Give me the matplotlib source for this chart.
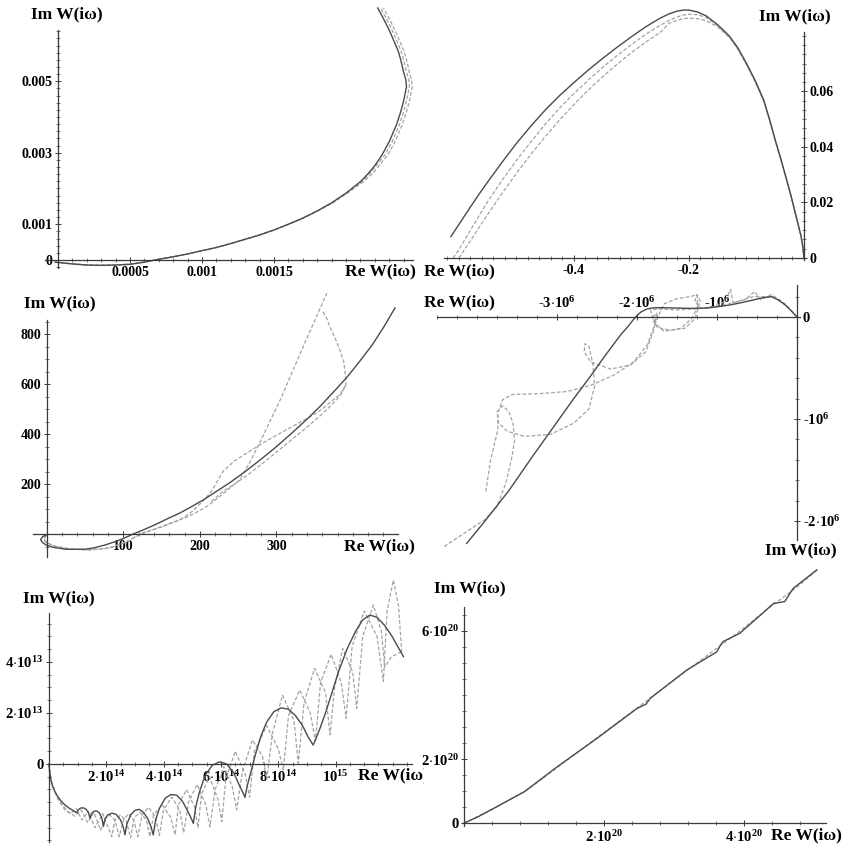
import matplotlib
matplotlib.use("Agg")
import matplotlib.pyplot as plt
import numpy as np
from matplotlib.ticker import FixedLocator, FixedFormatter, MultipleLocator
from matplotlib.transforms import Bbox, TransformedBbox

plt.rcParams['font.family'] = ['Liberation Serif', 'DejaVu Serif']
plt.rcParams['font.weight'] = 'bold'
plt.rcParams['mathtext.fontset'] = 'custom'
plt.rcParams['mathtext.rm'] = 'Liberation Serif:bold'
plt.rcParams['mathtext.bf'] = 'Liberation Serif:bold'
plt.rcParams['mathtext.it'] = 'Liberation Serif:bold'

W, H = 847, 850
IM = 'Im W(i\u03c9)'
RE = 'Re W(i\u03c9)'

# ---- panel 1 (top left) ----
p1_im = [-0.00006, -0.00011, -0.00014, -0.00015, -0.00014, -0.00012, -0.00006, 0.00002, 0.00009,
         0.00017, 0.00026, 0.00035, 0.00046, 0.00058, 0.0007, 0.00084, 0.001, 0.00117, 0.00137,
         0.0016, 0.00187, 0.00219, 0.0024, 0.00264, 0.00294, 0.00331, 0.00378, 0.00415, 0.00445,
         0.00465, 0.00485, 0.00505, 0.00525, 0.0056, 0.00587, 0.00615, 0.00643, 0.00675, 0.00705]
p1_re = [-0.00002, 0.0001, 0.0002, 0.0003, 0.0004, 0.0005, 0.0006, 0.0007, 0.0008,
         0.0009, 0.001, 0.0011, 0.0012, 0.0013, 0.0014, 0.0015, 0.0016, 0.0017, 0.0018,
         0.0019, 0.002, 0.0021, 0.00215, 0.0022, 0.00225, 0.0023, 0.00235, 0.00238, 0.0024,
         0.00241, 0.00242, 0.002415, 0.0024, 0.00238, 0.00236, 0.00233, 0.0023, 0.00226, 0.00222]
p1_re_a = [-0.00002, 0.0001, 0.0002, 0.0003, 0.0004, 0.0005, 0.0006, 0.0007, 0.0008,
           0.0009, 0.001, 0.0011, 0.0012, 0.0013, 0.0014, 0.0015, 0.0016, 0.0017, 0.0018,
           0.0019, 0.002, 0.00211, 0.00216, 0.00221, 0.00227, 0.00232, 0.00237, 0.0024, 0.00242,
           0.00243, 0.00244, 0.002435, 0.00242, 0.0024, 0.00238, 0.00235, 0.00232, 0.00228, 0.00224]
p1_re_b = [-0.00002, 0.0001, 0.0002, 0.0003, 0.0004, 0.0005, 0.0006, 0.0007, 0.0008,
           0.0009, 0.001, 0.0011, 0.0012, 0.0013, 0.0014, 0.0015, 0.0016, 0.0017, 0.0018,
           0.00191, 0.00201, 0.00212, 0.00218, 0.00223, 0.00229, 0.00234, 0.00239, 0.00242, 0.00244,
           0.00245, 0.00246, 0.002455, 0.00244, 0.00242, 0.0024, 0.00237, 0.00234, 0.0023, 0.00226]
p1_xticks = [0.0005, 0.001, 0.0015]
p1_xlabels = ['0.0005', '0.001', '0.0015']
p1_yticks = [0, 0.001, 0.003, 0.005]
p1_ylabels = ['0', '0.001', '0.003', '0.005']

# ---- panel 2 (top right) ----
p2_re = [-0.614, -0.6, -0.58, -0.565, -0.55, -0.525, -0.5, -0.475, -0.45, -0.425, -0.4, -0.375,
         -0.35, -0.325, -0.3, -0.275, -0.25, -0.235, -0.221, -0.21, -0.2, -0.185, -0.17, -0.15,
         -0.13, -0.115, -0.1, -0.085, -0.07, -0.06, -0.05, -0.04, -0.03, -0.022, -0.015, -0.01,
         -0.005, -0.002, 0.0]
p2_im = [0.0077, 0.0121, 0.0184, 0.0230, 0.0274, 0.0345, 0.0413, 0.0475, 0.0533, 0.0585, 0.0632, 0.0677,
         0.0719, 0.0759, 0.0797, 0.0833, 0.0864, 0.0879, 0.0889, 0.0893, 0.0893, 0.0886, 0.0872, 0.0840,
         0.0800, 0.0757, 0.0701, 0.0640, 0.0569, 0.0500, 0.0425, 0.0355, 0.0281, 0.0220, 0.0161, 0.0120,
         0.0077, 0.0040, 0.0]
p2_re_a = [-0.61, -0.6, -0.58, -0.565, -0.55, -0.525, -0.5, -0.475, -0.45, -0.425, -0.4, -0.375,
           -0.35, -0.325, -0.3, -0.275, -0.25, -0.235, -0.221, -0.21, -0.2, -0.185, -0.17, -0.15,
           -0.13, -0.115, -0.1, -0.085, -0.07, -0.06, -0.05, -0.04, -0.03, -0.022, -0.015, -0.01,
           -0.005, -0.002, 0.0]
p2_im_a = [0.0, 0.0030, 0.0100, 0.0152, 0.0203, 0.0280, 0.0352, 0.0418, 0.0482, 0.0540, 0.0592, 0.0641,
           0.0687, 0.0729, 0.0769, 0.0806, 0.0838, 0.0855, 0.0868, 0.0875, 0.0878, 0.0876, 0.0866, 0.0836,
           0.0797, 0.0754, 0.0698, 0.0637, 0.0566, 0.0498, 0.0423, 0.0353, 0.0279, 0.0219, 0.0160, 0.0119,
           0.0077, 0.0040, 0.0]
p2_re_b = [-0.6, -0.592, -0.58, -0.565, -0.55, -0.525, -0.5, -0.475, -0.45, -0.425, -0.4, -0.375,
           -0.35, -0.325, -0.3, -0.275, -0.25, -0.235, -0.221, -0.21, -0.2, -0.185, -0.17, -0.15,
           -0.13, -0.115, -0.1, -0.085, -0.07, -0.06, -0.05, -0.04, -0.03, -0.022, -0.015, -0.01,
           -0.005, -0.002, 0.0]
p2_im_b = [0.0, 0.0025, 0.0062, 0.0110, 0.0157, 0.0233, 0.0305, 0.0373, 0.0437, 0.0497, 0.0553, 0.0605,
           0.0653, 0.0698, 0.0740, 0.0778, 0.0812, 0.0845, 0.0856, 0.0862, 0.0864, 0.0862, 0.0855, 0.0832,
           0.0795, 0.0752, 0.0696, 0.0635, 0.0565, 0.0497, 0.0422, 0.0352, 0.0278, 0.0218, 0.0160, 0.0119,
           0.0077, 0.0040, 0.0]
p2_xticks = [-0.4, -0.2]
p2_xlabels = ['-0.4', '-0.2']
p2_yticks = [0, 0.02, 0.04, 0.06]
p2_ylabels = ['0', '0.02', '0.04', '0.06']

# ---- panel 3 (middle left) ----
p3_re = [0, -5, -8, -6, -1, 8, 25, 50, 62, 75, 90, 100, 113, 125, 140, 157, 174, 190, 205, 222, 240,
         259, 280, 300, 320, 340, 357, 375, 392, 408, 425, 440, 455]
p3_im = [-2, -10, -22, -33, -44, -53, -61, -61, -55, -45, -30, -18, 0, 15, 35, 60, 84, 111, 137, 171,
         207, 249, 299, 349, 403, 459, 510, 569, 626, 687, 755, 826, 904]
p3_re_a = [0, -4, -2, 10, 30, 55, 80, 105, 120, 150, 185, 209, 230, 252, 265, 278, 305, 335, 366]
p3_im_a = [-3, -15, -32, -48, -60, -64, -57, -30, -5, 30, 70, 109, 160, 216, 285, 363, 536, 749, 963]
p3_re_b = [0, -3, 0, 12, 32, 58, 84, 108, 122, 150, 174, 188, 202, 215, 230, 245, 261, 283, 305, 327,
           348, 362, 374, 383, 387, 392]
p3_im_b = [-4, -18, -36, -50, -61, -63, -55, -27, 2, 28, 56, 85, 125, 169, 249, 292, 323, 365, 403, 440,
           476, 505, 536, 558, 576, 600]
p3_re_c = [361, 366, 370, 377, 383, 388, 390, 391, 388, 385, 378, 370, 358, 345, 330, 315, 300, 285,
           270, 255, 242, 230, 215]
p3_im_c = [889, 862, 829, 782, 736, 690, 643, 600, 580, 560, 535, 510, 475, 440, 402, 365, 327, 290,
           254, 220, 193, 170, 130]
p3_xticks = [100, 200, 300]
p3_xlabels = ['100', '200', '300']
p3_yticks = [200, 400, 600, 800]
p3_ylabels = ['200', '400', '600', '800']

# ---- panel 4 (middle right), values in units of 1e6 ----
p4_re = [0, -0.07, -0.15, -0.24, -0.32, -0.42, -0.55, -0.7, -0.84, -1.0, -1.13, -1.35, -1.59, -1.72,
         -1.8, -1.88, -1.95, -2.0, -2.05, -2.12, -2.2, -2.4, -2.6, -2.8, -3.0, -3.3, -3.6, -3.9, -4.13]
p4_im = [0, 0.06, 0.12, 0.17, 0.2, 0.19, 0.167, 0.14, 0.118, 0.1, 0.088, 0.085, 0.09, 0.092,
         0.09, 0.078, 0.05, 0.015, -0.03, -0.1, -0.17, -0.38, -0.6, -0.81, -1.03, -1.36, -1.7, -2.0, -2.22]
p4_re_q = [-4.41, -4.16, -3.91, -3.75, -3.64, -3.57, -3.53, -3.55, -3.6, -3.68, -3.75, -3.73, -3.62,
           -3.41, -3.08, -2.79, -2.6, -2.53, -2.55, -2.6, -2.65, -2.66, -2.58, -2.33, -2.08, -1.89,
           -1.79, -1.75, -1.8, -1.75, -1.59, -1.4, -1.27, -1.21, -1.25, -1.28, -1.2, -1.0, -0.75,
           -0.55, -0.4, -0.3, -0.15, 0]
p4_im_q = [-2.25, -2.12, -1.99, -1.86, -1.63, -1.4, -1.21, -1.04, -0.93, -0.87, -0.93, -1.04, -1.12,
           -1.17, -1.15, -1.04, -0.9, -0.68, -0.47, -0.29, -0.26, -0.34, -0.44, -0.51, -0.47, -0.34,
           -0.13, 0.04, 0.0, -0.1, -0.13, -0.11, -0.01, 0.16, 0.22, 0.15, 0.085, 0.1, 0.15,
           0.2, 0.2, 0.2, 0.13, 0]
p4_re_e = [-3.89, -3.83, -3.74, -3.74, -3.68, -3.56, -3.2, -2.87, -2.58, -2.29, -2.04, -1.87, -1.8,
           -1.72, -1.66, -1.5, -1.33, -1.25, -1.24, -1.31, -1.45, -1.66, -1.79, -1.83, -1.7, -1.5,
           -1.25, -1.05, -0.9, -0.83, -0.8, -0.65, -0.53, -0.45, -0.32, -0.2, -0.08, 0]
p4_im_e = [-1.71, -1.40, -1.11, -0.94, -0.81, -0.76, -0.75, -0.73, -0.67, -0.57, -0.44, -0.27, -0.12,
           0.03, 0.13, 0.18, 0.2, 0.22, 0.1, -0.01, -0.11, -0.14, -0.05, 0.07, 0.08, 0.07,
           0.08, 0.1, 0.15, 0.27, 0.14, 0.17, 0.25, 0.17, 0.22, 0.16, 0.07, 0]
p4_xticks = [-3e6, -2e6, -1e6]
p4_xlabels = [r'-$\mathbf{3{\cdot}10^{6}}$', r'-$\mathbf{2{\cdot}10^{6}}$', r'-$\mathbf{10^{6}}$']
p4_yticks = [0, -1e6, -2e6]
p4_ylabels = ['0', r'-$\mathbf{10^{6}}$', r'-$\mathbf{2{\cdot}10^{6}}$']

# ---- panel 5 (bottom left), Re in 1e14, Im in 1e13 ----
p5_re = [0, 0.02, 0.06, 0.12, 0.2, 0.3, 0.42, 0.55, 0.7, 0.85, 0.97,
         1.02, 1.1, 1.2, 1.3, 1.38, 1.43,
         1.48, 1.56, 1.66, 1.76, 1.84, 1.9,
         1.96, 2.05, 2.2, 2.35, 2.5, 2.6, 2.65,
         2.72, 2.85, 3.0, 3.15, 3.3, 3.45, 3.57, 3.64,
         3.72, 3.85, 4.05, 4.25, 4.45, 4.65, 4.82, 4.95, 5.04,
         5.12, 5.25, 5.45, 5.7, 5.95, 6.2, 6.45, 6.65, 6.78, 6.84,
         6.92, 7.05, 7.2, 7.4, 7.6, 7.85, 8.1, 8.35, 8.6, 8.85, 9.05, 9.22,
         9.3, 9.46, 9.65, 9.85, 10.1, 10.4, 10.7, 10.95, 11.2, 11.45, 11.7, 11.95, 12.15, 12.37]
p5_im = [0, -0.3, -0.6, -0.85, -1.07, -1.27, -1.45, -1.6, -1.73, -1.83, -1.92,
         -1.8, -1.73, -1.72, -1.78, -1.92, -2.13,
         -1.95, -1.86, -1.84, -1.92, -2.1, -2.45,
         -2.15, -2.0, -1.93, -1.98, -2.2, -2.5, -2.78,
         -2.35, -2.0, -1.82, -1.78, -1.9, -2.15, -2.5, -2.78,
         -2.2, -1.75, -1.35, -1.2, -1.22, -1.45, -1.8, -2.1, -2.33,
         -1.7, -1.1, -0.45, -0.05, 0.08, 0.0, -0.35, -0.85, -1.15, -1.31,
         -0.85, -0.3, 0.35, 1.1, 1.65, 2.05, 2.2, 2.15, 1.9, 1.5, 1.05, 0.74,
         0.95, 1.4, 2.0, 2.7, 3.6, 4.5, 5.2, 5.65, 5.84, 5.75, 5.45, 5.05, 4.65, 4.21]
p5_re_a = [0, 0.1, 0.35, 0.65, 0.9, 1.12, 1.35, 1.57, 1.8, 1.95, 2.12, 2.3, 2.45, 2.6, 2.78, 2.97,
           3.1, 3.25, 3.48, 3.72, 3.85, 4.0, 4.28, 4.56, 4.7, 4.87, 5.17, 5.47, 5.62, 5.8, 6.1, 6.4,
           6.55, 6.75, 7.1, 7.45, 7.6, 7.8, 8.15, 8.55, 8.7, 8.9, 9.27, 9.65, 9.81, 9.97, 10.25,
           10.6, 10.74, 10.95, 11.32, 11.6, 11.72, 11.95, 12.31]
p5_im_a = [0, -0.8, -1.45, -1.85, -2.05, -1.8, -2.3, -1.9, -2.6, -2.15, -2.0, -2.2, -2.85, -2.2,
           -1.95, -2.25, -2.85, -2.0, -1.7, -2.1, -2.8, -1.8, -1.3, -1.8, -2.7, -1.5, -0.8, -1.6,
           -2.46, -1.0, -0.1, -0.9, -1.8, -0.3, 0.94, 0.3, -0.6, 1.2, 2.7, 1.7, 0.03, 2.4, 3.75,
           2.8, 1.14, 3.0, 4.53, 3.6, 2.18, 5.0, 6.23, 5.2, 3.8, 4.2, 4.4]
p5_re_b = [0, 0.08, 0.3, 0.55, 0.75, 0.95, 1.15, 1.37, 1.6, 1.88, 2.19, 2.3, 2.5, 2.7, 2.85, 2.97,
           3.18, 3.4, 3.52, 3.65, 3.95, 4.25, 4.4, 4.52, 4.8, 5.08, 5.2, 5.32, 5.6, 5.9, 6.03, 6.17,
           6.5, 6.85, 7.0, 7.17, 7.6, 8.0, 8.18, 8.36, 8.75, 9.12, 9.3, 9.48, 9.85, 10.2, 10.37,
           10.58, 11.0, 11.45, 11.67, 11.8, 12.02, 12.2, 12.31]
p5_im_b = [0, -0.7, -1.35, -1.8, -1.95, -1.75, -2.2, -1.85, -2.5, -1.95, -2.85, -2.2, -2.0, -2.25,
           -2.9, -2.1, -1.9, -2.2, -2.85, -2.0, -1.6, -2.1, -2.78, -1.6, -1.0, -1.7, -2.5, -1.2,
           -0.5, -1.4, -2.26, -0.6, 0.5, -0.4, -1.3, 0.5, 1.5, 0.6, -0.24, 1.9, 2.9, 2.0, 0.9, 3.2,
           4.3, 3.2, 1.79, 4.6, 6.0, 5.0, 3.23, 6.0, 7.21, 6.2, 4.4]
p5_xticks = [2e14, 4e14, 6e14, 8e14, 1e15]
p5_xlabels = [r'$\mathbf{2{\cdot}10^{14}}$', r'$\mathbf{4{\cdot}10^{14}}$', r'$\mathbf{6{\cdot}10^{14}}$',
              r'$\mathbf{8{\cdot}10^{14}}$', r'$\mathbf{10^{15}}$']
p5_yticks = [0, 2e13, 4e13]
p5_ylabels = ['0', r'$\mathbf{2{\cdot}10^{13}}$', r'$\mathbf{4{\cdot}10^{13}}$']

# ---- panel 6 (bottom right), values in 1e20 ----
p6_re = [0, 0.2, 0.38, 0.86, 1.33, 1.9, 2.47, 2.6, 2.66, 3.18, 3.61, 3.66, 3.7, 3.94, 4.42, 4.58,
         4.61, 4.7, 5.04]
p6_im = [0, 0.2, 0.41, 0.98, 1.76, 2.65, 3.58, 3.72, 3.9, 4.78, 5.35, 5.55, 5.67, 5.93, 6.86, 6.92,
         7.02, 7.33, 7.91]
p6_re_a = [0, 0.4, 0.9, 1.4, 1.9, 2.4, 2.9, 3.4, 3.9, 4.4, 4.75, 5.04]
p6_im_a = [0, 0.43, 1.03, 1.85, 2.67, 3.48, 4.3, 5.12, 5.93, 6.8, 7.36, 7.9]
p6_xticks = [2e20, 4e20]
p6_xlabels = [r'$\mathbf{2{\cdot}10^{20}}$', r'$\mathbf{4{\cdot}10^{20}}$']
p6_yticks = [0, 2e20, 6e20]
p6_ylabels = ['0', r'$\mathbf{2{\cdot}10^{20}}$', r'$\mathbf{6{\cdot}10^{20}}$']

SOLID = '#4a4a4a'
DASH = '#a3a3a3'

fig = plt.figure(figsize=(W / 100, H / 100), dpi=100)


def panel(box, xlim, ylim, xticks, xlabels, yticks, ylabels, xminor, yminor,
          yside='left', xside='bottom', size=10):
    l, t, r, b = box
    ax = fig.add_axes([l / W, 1 - b / H, (r - l) / W, (b - t) / H])
    ax.set_xlim(xlim)
    ax.set_ylim(ylim)
    ax.patch.set_alpha(0)
    for s in ['left', 'right', 'top', 'bottom']:
        ax.spines[s].set_visible(False)
    for s in [yside, xside]:
        ax.spines[s].set_visible(True)
        ax.spines[s].set_position(('data', 0))
        ax.spines[s].set_color('#3a3a3a')
        ax.spines[s].set_linewidth(0.9)
    ax.xaxis.set_ticks_position(xside)
    ax.yaxis.set_ticks_position(yside)
    ax.xaxis.set_major_locator(FixedLocator(xticks))
    ax.xaxis.set_major_formatter(FixedFormatter(xlabels))
    ax.yaxis.set_major_locator(FixedLocator(yticks))
    ax.yaxis.set_major_formatter(FixedFormatter(ylabels))
    ax.xaxis.set_minor_locator(MultipleLocator(xminor))
    ax.yaxis.set_minor_locator(MultipleLocator(yminor))
    ax.tick_params(which='major', direction='inout', length=5, width=0.7, color='#3a3a3a',
                   labelsize=size, pad=1.5)
    ax.tick_params(which='minor', direction='inout', length=3, width=0.5, color='#3a3a3a')
    return ax


def curve(ax, re, im, sx, sy, dashed=False):
    x = np.array(re) * sx
    y = np.array(im) * sy
    if dashed:
        ax.plot(x, y, color=DASH, lw=0.9, dashes=(3, 1.6), clip_on=False)
    else:
        ax.plot(x, y, color=SOLID, lw=1.0, clip_on=False, solid_joinstyle='round')


def label(x, y, s, ha='center', clip=None):
    t = fig.text(x / W, 1 - y / H, s, ha=ha, va='center', fontsize=12.5, fontweight='bold')
    if clip is not None:
        t.set_clip_box(TransformedBbox(Bbox.from_extents(clip[0] / W, 0, clip[1] / W, 1),
                                       fig.transFigure))
        t.set_clip_on(True)
    return t


# panel 1
ax1 = panel((45, 30, 413, 268), (-9.0e-5, 0.002465), (-0.000224, 0.006434),
            p1_xticks, p1_xlabels, p1_yticks, p1_ylabels, 0.0001, 0.0002)
curve(ax1, p1_re_b, p1_im, 1, 1, dashed=True)
curve(ax1, p1_re_a, p1_im, 1, 1, dashed=True)
curve(ax1, p1_re, p1_im, 1, 1)
label(67, 14, IM)
label(380, 271, RE)

# panel 2
ax2 = panel((444, 32, 806, 260), (-0.626, 0.0035), (-0.00072, 0.0814),
            p2_xticks, p2_xlabels, p2_yticks, p2_ylabels, 0.02, 0.02 / 6, yside='right')
curve(ax2, p2_re_b, p2_im_b, 1, 1, dashed=True)
curve(ax2, p2_re_a, p2_im_a, 1, 1, dashed=True)
curve(ax2, p2_re, p2_im, 1, 1)
label(795, 16, IM)
label(424, 271, RE, ha='left')

# panel 3
ax3 = panel((33, 320, 398, 557), (-18, 459), (-92, 856),
            p3_xticks, p3_xlabels, p3_yticks, p3_ylabels, 20, 50)
curve(ax3, p3_re_a, p3_im_a, 1, 1, dashed=True)
curve(ax3, p3_re_b, p3_im_b, 1, 1, dashed=True)
curve(ax3, p3_re_c, p3_im_c, 1, 1, dashed=True)
curve(ax3, p3_re, p3_im, 1, 1)
label(60, 303, IM)
label(379, 546, RE)

# panel 4
ax4 = panel((437, 285, 800, 540), (-4.5e6, 0.0375e6), (-2.186e6, 0.314e6),
            p4_xticks, p4_xlabels, p4_yticks, p4_ylabels, 0.25e6, 0.2e6,
            yside='right', xside='top', size=10.5)
curve(ax4, p4_re_q, p4_im_q, 1e6, 1e6, dashed=True)
curve(ax4, p4_re_e, p4_im_e, 1e6, 1e6, dashed=True)
curve(ax4, p4_re, p4_im, 1e6, 1e6)
label(424, 302, RE, ha='left')
label(801, 550, IM)

# panel 5
ax5 = panel((48, 613, 412, 842), (-3.5e12, 1.267e15), (-3.06e13, 5.92e13),
            p5_xticks, p5_xlabels, p5_yticks, p5_ylabels, 0.5e14, 0.5e13, size=10.5)
curve(ax5, p5_re_b, p5_im_b, 1e14, 1e13, dashed=True)
curve(ax5, p5_re_a, p5_im_a, 1e14, 1e13, dashed=True)
curve(ax5, p5_re, p5_im, 1e14, 1e13)
label(59, 598, IM)
label(358, 775, RE, ha='left', clip=(0, 424))

# panel 6
ax6 = panel((462, 607, 826, 826), (-0.03e20, 5.17e20), (-0.09e20, 6.75e20),
            p6_xticks, p6_xlabels, p6_yticks, p6_ylabels, 0.4e20, 0.5e20, size=10.5)
curve(ax6, p6_re_a, p6_im_a, 1e20, 1e20, dashed=True)
curve(ax6, p6_re, p6_im, 1e20, 1e20)
label(470, 588, IM)
label(806, 835, RE)

fig.savefig('out.png', dpi=100)
